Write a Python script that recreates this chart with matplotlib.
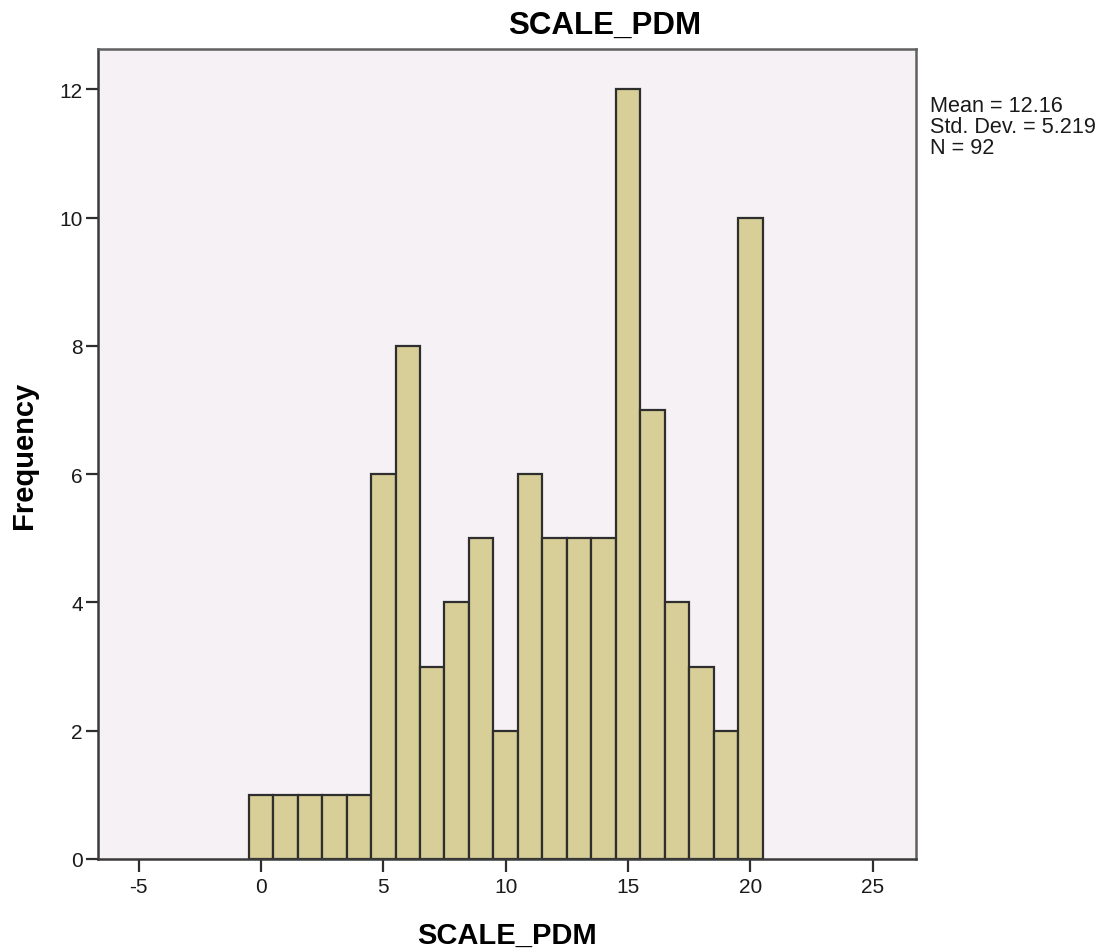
import matplotlib
matplotlib.use("Agg")
import matplotlib.pyplot as plt
import numpy as np

plt.rcParams['font.family'] = ['Liberation Sans', 'DejaVu Sans']

values = [0, 1, 2, 3, 4, 5, 6, 7, 8, 9, 10, 11, 12, 13, 14, 15, 16, 17, 18, 19, 20]
counts = [1, 1, 1, 1, 1, 6, 8, 3, 4, 5, 2, 6, 5, 5, 5, 12, 7, 4, 3, 2, 10]
xticks = [-5, 0, 5, 10, 15, 20, 25]
yticks = [0, 2, 4, 6, 8, 10, 12]
stats_lines = ["Mean = 12.16", "Std. Dev. = 5.219", "N = 92"]

W, H = 1099, 953
fig = plt.figure(figsize=(W / 100, H / 100), dpi=100)
ax = fig.add_axes([98 / W, 1 - 860 / H, (916 - 98) / W, (860 - 50) / H])
ax.set_facecolor('#F5F1F5')

ax.bar(values, counts, width=1.0, align='center', color='#D7CF97',
       edgecolor='#2E2E2E', linewidth=1.6, zorder=2)

ax.set_xlim(-6.66, 26.77)
ax.set_ylim(0, 12.63)
ax.set_xticks(xticks)
ax.set_xticklabels([str(t) for t in xticks])
ax.set_yticks(yticks)
ax.set_yticklabels([str(t) for t in yticks])

for s in ax.spines.values():
    s.set_color('#3A3A3A')
    s.set_linewidth(1.8)
ax.spines['top'].set_color('#606060')
ax.spines['right'].set_color('#606060')

ax.tick_params(axis='both', direction='out', length=9, width=1.6,
               color='#2E2E2E', labelsize=15, labelcolor='#1A1A1A')
ax.tick_params(axis='y', pad=2)
ax.tick_params(axis='x', pad=4)

ax.set_xlabel('SCALE_PDM', fontsize=21, fontweight='bold', labelpad=18)
ax.set_ylabel('Frequency', fontsize=21, fontweight='bold', labelpad=15.5)
fig.text(605 / W, 1 - 26 / H, 'SCALE_PDM', fontsize=22.5, fontweight='bold',
         ha='center', va='center')

baselines = [111.5, 133, 154.5]
for line, yb in zip(stats_lines, baselines):
    fig.text(930 / W, 1 - yb / H, line, fontsize=15.6, ha='left', va='baseline',
             color='#1A1A1A')

fig.savefig('out.png', dpi=100)
